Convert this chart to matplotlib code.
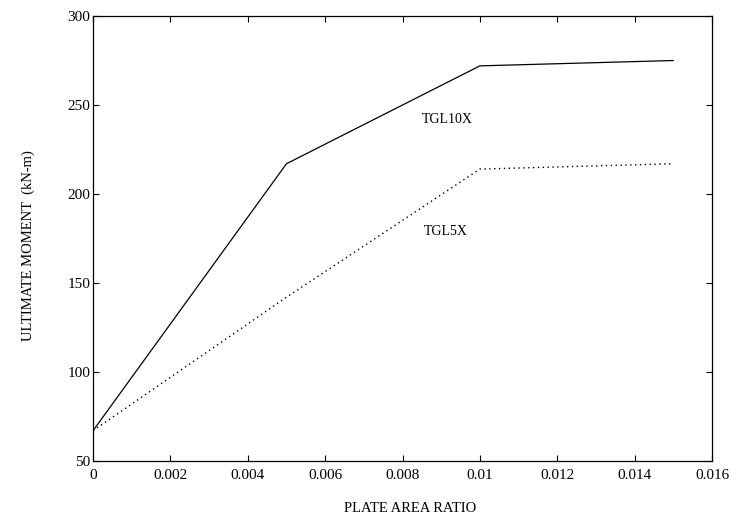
import matplotlib
matplotlib.use("Agg")
import matplotlib.pyplot as plt

# plate area ratio vs ultimate moment for the two strengthened beams
ratio = [0.0, 0.005, 0.010, 0.015]
moment_tgl10x = [67, 217, 272, 275]
moment_tgl5x = [67, 142, 214, 217]

xticks = [0, 0.002, 0.004, 0.006, 0.008, 0.01, 0.012, 0.014, 0.016]
xticklabels = ['0', '0.002', '0.004', '0.006', '0.008', '0.01', '0.012', '0.014', '0.016']
yticks = [50, 100, 150, 200, 250, 300]

plt.rcParams['font.family'] = ['Liberation Serif', 'DejaVu Serif']

fig = plt.figure(figsize=(7.4, 5.22), dpi=100)
ax = fig.add_axes([0.1257, 0.1169, 0.8365, 0.8524])

ax.plot(ratio, moment_tgl10x, color='black', lw=0.9, ls='-')
ax.plot(ratio, moment_tgl5x, color='black', lw=1.0, ls=(0, (1, 2.5)))

ax.text(0.00915, 242, 'TGL10X', fontsize=10, ha='center', va='center')
ax.text(0.00912, 179, 'TGL5X', fontsize=10, ha='center', va='center')

ax.set_xlim(0, 0.016)
ax.set_ylim(50, 300)
ax.set_xticks(xticks)
ax.set_xticklabels(xticklabels)
ax.set_yticks(yticks)
ax.tick_params(direction='in', length=4, width=0.8, labelsize=11,
               top=True, right=True)
ax.tick_params(axis='x', pad=6)
ax.tick_params(axis='y', pad=2)
for sp in ax.spines.values():
    sp.set_linewidth(0.9)

fig.text(0.554, 0.014, 'PLATE AREA RATIO', fontsize=10.5, ha='center', va='bottom')
fig.text(0.038, 0.53, 'ULTIMATE MOMENT  (kN-m)', fontsize=10.5, ha='center',
         va='center', rotation=90)

fig.savefig('out.png', dpi=100)
